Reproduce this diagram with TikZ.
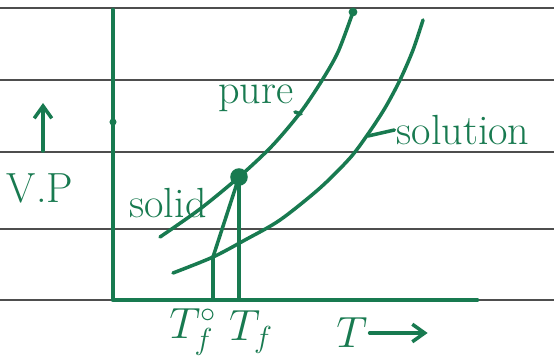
\documentclass[tikz,border=0pt]{standalone}
\usetikzlibrary{positioning, arrows.meta}
\definecolor{inkGreen}{HTML}{187A50}
\definecolor{ruleGray}{HTML}{4E4E4E}

\begin{document}
\begin{tikzpicture}[
    x=0.02cm, y=-0.02cm,
    >={Straight Barb[length=7pt, width=10pt]},
    ink/.style={draw=inkGreen, line width=2pt, line cap=round, line join=round},
    axis/.style={ink, line width=2.6pt},
    rule/.style={draw=ruleGray, line width=0.9pt},
    lbl/.style={text=inkGreen, font=\fontsize{24}{26}\selectfont, inner sep=1pt},
    blob/.style={circle, fill=inkGreen, inner sep=0pt, minimum size=#1}
]
    \useasboundingbox[fill=white] (0,0) rectangle (554,358);

    % ruled lines of the page
    \foreach \y in {8,80,152,229,300}
        \draw[rule] (0,\y) -- (554,\y);

    % axes
    \coordinate (O) at (113,300);
    \coordinate (yTop) at (113,10);
    \coordinate (xEnd) at (477,300);
    \draw[axis] (yTop) -- (O) -- (xEnd);
    \node[blob=4pt] (yTick) at (113,122) {};

    % vapour pressure curves
    \node[blob=10pt] (triple) at (239,177) {};
    \node[blob=5pt] (pureEnd) at (353,12) {};
    \coordinate (solEnd) at (423,20);
    \coordinate (meet) at (213,257);
    \draw[ink] plot[smooth] coordinates {(160,237) (200,209) (triple) (272,146) (300,113) (321,82) (338,52) (pureEnd)};
    \draw[ink] plot[smooth] coordinates {(173,273) (meet) (245,240) (280,220) (320,188) (350,158) (368,134) (385,108) (400,80) (413,50) (solEnd)};
    \draw[ink] (triple.center) -- (meet);

    % freezing points
    \draw[ink] (meet) -- (meet |- O);
    \draw[ink] (triple.center) -- (triple |- O);

    % labels
    \node[lbl] (vpLbl) at (40,188) {V.P};
    \coordinate (vpTail) at (43,151);
    \coordinate (vpHead) at (43,103);
    \draw[ink, ->] (vpTail) -- (vpHead);

    \node[lbl] (pureLbl) at (256,98) {pure};
    \coordinate (pureMark) at (301,114);
    \draw[ink] (pureMark) -- ++(-6,-2);

    \node[lbl] (solLbl) at (463,130) {solution};
    \coordinate (solMark) at (368,136);
    \draw[ink] (solMark) -- (solLbl.west);

    \node[lbl] (solidLbl) at (168,203) {solid};

    \node[lbl] (TsolLbl) at (193,332) {$T^{\circ}_f$};
    \node[lbl] (TpureLbl) at (251,332) {$T_f$};
    \node[lbl] (Tlbl) at (352,333) {$T$};
    \draw[ink, ->] (Tlbl.east) -- ++(58,0);
\end{tikzpicture}
\end{document}
